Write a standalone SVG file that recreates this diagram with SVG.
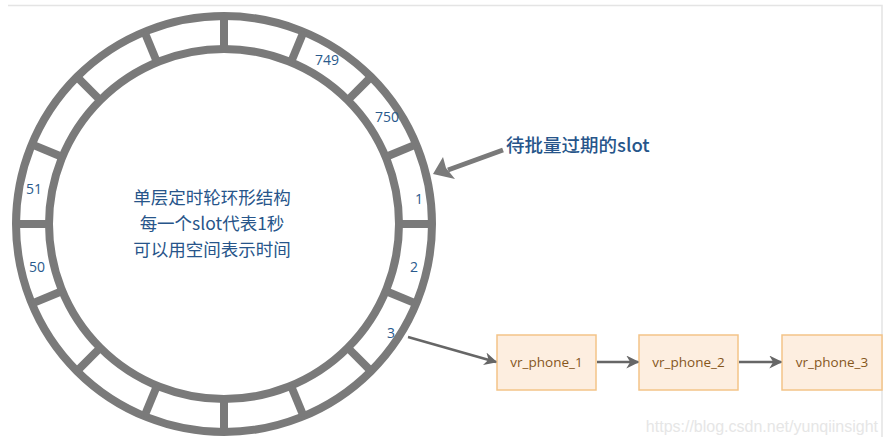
<svg xmlns="http://www.w3.org/2000/svg" width="888" height="445" viewBox="0 0 888 445">
<defs>
<style>
.ring{fill:none;stroke:#7a7a7a;stroke-width:8}
.spoke{stroke:#7a7a7a;stroke-width:8}
.num{font-family:"Open Sans","Noto Sans",sans-serif;font-size:14px;fill:#2a5a8c;text-anchor:middle}
.ctr{font-family:"Noto Sans CJK SC","Noto Sans",sans-serif;font-size:17.5px;fill:#27558a;text-anchor:middle}
.box{fill:#fdeee0;stroke:#f3c488;stroke-width:1.5}
.btxt{font-family:"Open Sans","Noto Sans",sans-serif;font-size:13.5px;fill:#85561c;text-anchor:middle}
.conn{stroke:#666;stroke-width:2.5;fill:none}
</style>
<marker id="ah" viewBox="0 0 10 10" refX="9" refY="5" markerWidth="13" markerHeight="13" markerUnits="userSpaceOnUse" orient="auto">
<path d="M0,0 L10,5 L0,10 L3,5 z" fill="#666"/>
</marker>
</defs>
<rect width="888" height="445" fill="#fff"/>
<path d="M8,5.5 H882 V437" fill="none" stroke="#e4e4e4" stroke-width="1.5"/>
<g id="wheel">
<circle class="ring" cx="224" cy="224" r="208"/>
<circle class="ring" cx="224" cy="224" r="175"/>
<g transform="translate(224,224)">
<line class="spoke" x1="175" y1="0" x2="208" y2="0" transform="rotate(0)"/>
<line class="spoke" x1="175" y1="0" x2="208" y2="0" transform="rotate(22.5)"/>
<line class="spoke" x1="175" y1="0" x2="208" y2="0" transform="rotate(45)"/>
<line class="spoke" x1="175" y1="0" x2="208" y2="0" transform="rotate(67.5)"/>
<line class="spoke" x1="175" y1="0" x2="208" y2="0" transform="rotate(90)"/>
<line class="spoke" x1="175" y1="0" x2="208" y2="0" transform="rotate(112.5)"/>
<line class="spoke" x1="175" y1="0" x2="208" y2="0" transform="rotate(135)"/>
<line class="spoke" x1="175" y1="0" x2="208" y2="0" transform="rotate(157.5)"/>
<line class="spoke" x1="175" y1="0" x2="208" y2="0" transform="rotate(180)"/>
<line class="spoke" x1="175" y1="0" x2="208" y2="0" transform="rotate(202.5)"/>
<line class="spoke" x1="175" y1="0" x2="208" y2="0" transform="rotate(225)"/>
<line class="spoke" x1="175" y1="0" x2="208" y2="0" transform="rotate(247.5)"/>
<line class="spoke" x1="175" y1="0" x2="208" y2="0" transform="rotate(270)"/>
<line class="spoke" x1="175" y1="0" x2="208" y2="0" transform="rotate(292.5)"/>
<line class="spoke" x1="175" y1="0" x2="208" y2="0" transform="rotate(315)"/>
<line class="spoke" x1="175" y1="0" x2="208" y2="0" transform="rotate(337.5)"/>
</g>
<text class="num" x="327" y="65">749</text>
<text class="num" x="387" y="122">750</text>
<text class="num" x="419" y="204">1</text>
<text class="num" x="414" y="272">2</text>
<text class="num" x="391" y="338">3</text>
<text class="num" x="34" y="194">51</text>
<text class="num" x="37" y="272">50</text>
<text class="ctr" x="212" y="204">单层定时轮环形结构</text>
<text class="ctr" x="212" y="230">每一个slot代表1秒</text>
<text class="ctr" x="212" y="256">可以用空间表示时间</text>
</g>
<g id="pointer">
<line x1="503" y1="150" x2="448" y2="170" stroke="#7a7a7a" stroke-width="5"/>
<path d="M433,174 L443,157 L446,168 L455,179 z" fill="#7a7a7a"/>
<text x="506" y="152" font-family="Noto Sans CJK SC,Noto Sans,sans-serif" font-size="18.5" font-weight="500" fill="#27558a">待批量过期的slot</text>
</g>
<g id="n1"><rect class="box" x="497" y="335" width="99" height="55"/><text class="btxt" x="546.5" y="367">vr_phone_1</text></g>
<g id="n2"><rect class="box" x="639" y="335" width="99" height="55"/><text class="btxt" x="688.5" y="367">vr_phone_2</text></g>
<g id="n3"><rect class="box" x="782" y="335" width="100" height="55"/><text class="btxt" x="832" y="367">vr_phone_3</text></g>
<g id="connectors">
<line class="conn" x1="408" y1="337" x2="496" y2="362" marker-end="url(#ah)"/>
<line class="conn" x1="597" y1="362" x2="638" y2="362" marker-end="url(#ah)" stroke-width="3"/>
<line class="conn" x1="739" y1="362" x2="781" y2="362" marker-end="url(#ah)" stroke-width="3"/>
</g>
<text x="878" y="432" text-anchor="end" font-family="Liberation Sans,Arial,sans-serif" font-size="16" fill="#e6e6e6">https://blog.csdn.net/yunqiinsight</text>
</svg>
